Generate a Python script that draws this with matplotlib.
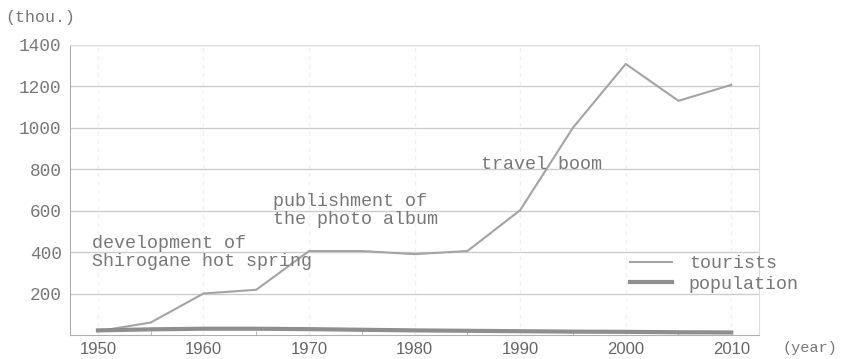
import matplotlib
matplotlib.use('Agg')
import matplotlib.pyplot as plt

years = [1950, 1955, 1960, 1965, 1970, 1975, 1980, 1985, 1990, 1995, 2000, 2005, 2010]
tourists = [18, 60, 200, 218, 405, 405, 390, 405, 602, 1000, 1308, 1130, 1207]
population = [22, 27, 30, 30, 28, 25, 22, 20, 18, 16, 15, 13, 12]
yticks = [200, 400, 600, 800, 1000, 1200, 1400]
xticks = [1950, 1960, 1970, 1980, 1990, 2000, 2010]

mono = 'Liberation Mono'
txt = '#777777'
fs = 13.2

fig = plt.figure(figsize=(8.43, 3.59), dpi=100)
ax = fig.add_axes([0.083, 0.067, 0.817, 0.808])

ax.set_xlim(1947.35, 2012.6)
ax.set_ylim(0, 1400)

for y in yticks:
    ax.axhline(y, color='#cccccc', lw=1.0, zorder=0)
for x in xticks:
    ax.axvline(x, color='#f0f0f0', lw=1.0, ls=(0, (3, 3)), zorder=0)

ax.plot(years, tourists, color='#a4a4a4', lw=1.5, label='tourists')
ax.plot(years, population, color='#8e8e8e', lw=3.0, label='population')

ax.set_yticks(yticks)
ax.set_yticklabels([str(y) for y in yticks], fontfamily=mono, fontsize=12.8, color=txt)
ax.set_xticks(xticks)
ax.set_xticklabels([str(x) for x in xticks], fontfamily='Liberation Sans', fontsize=12, color='#666666')
ax.set_xticks([1955, 1965, 1975, 1985, 1995, 2005], minor=True)
ax.tick_params(axis='both', which='both', length=0)
ax.tick_params(axis='y', pad=6)
ax.tick_params(axis='x', pad=5)
ax.tick_params(axis='x', which='minor', length=3, color='#aaaaaa', direction='in')

for s in ['left', 'bottom']:
    ax.spines[s].set_color('#b0b0b0')
for s in ['right', 'top']:
    ax.spines[s].set_color('#dddddd')

ax.text(1949.4, 398, 'development of\nShirogane hot spring', fontfamily=mono, fontsize=fs,
        color=txt, va='center', linespacing=1.1)
ax.text(1966.6, 602, 'publishment of\nthe photo album', fontfamily=mono, fontsize=fs,
        color=txt, va='center', linespacing=1.1)
ax.text(1986.3, 822, 'travel boom', fontfamily=mono, fontsize=fs, color=txt, va='center')

leg = ax.legend(loc='center left', bbox_to_anchor=(0.80, 0.21), frameon=False, borderpad=0,
                prop={'family': mono, 'size': fs}, handlelength=2.3, handletextpad=0.9,
                labelspacing=0.2)
for t in leg.get_texts():
    t.set_color(txt)

fig.text(0.006, 0.952, '(thou.)', fontfamily=mono, fontsize=12, color=txt, va='center')
fig.text(0.928, 0.03, '(year)', fontfamily=mono, fontsize=11, color=txt, va='center')

fig.savefig('out.png', dpi=100)
